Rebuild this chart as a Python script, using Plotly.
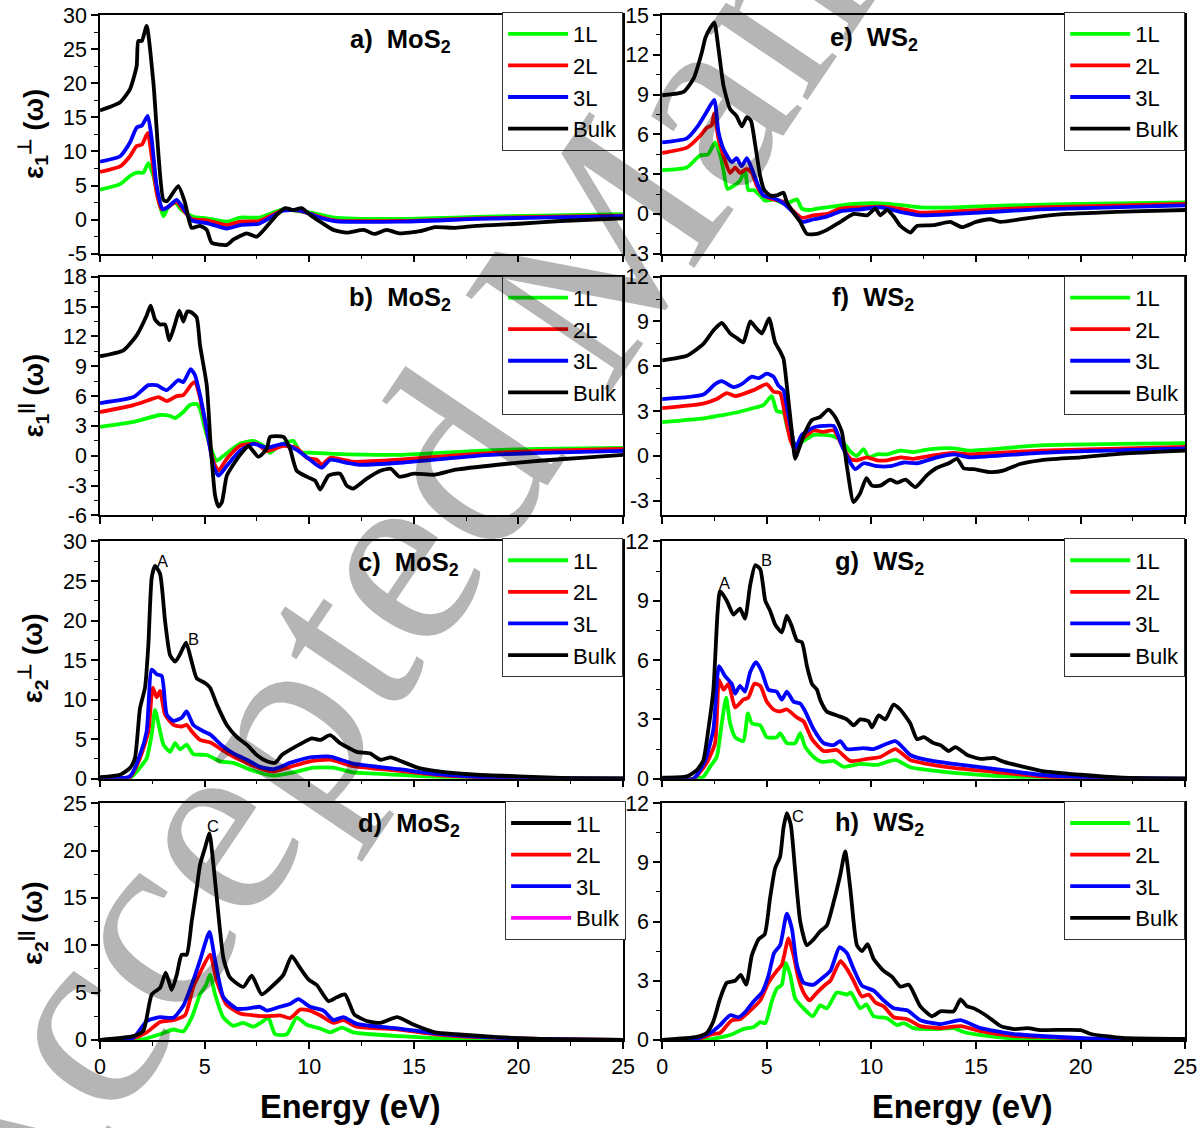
import plotly.graph_objects as go

# The captured picture shows the page slightly shrunk and offset, so placements are given in
# picture pixels and converted: picture = O + S * figure.
S_X, O_X, S_Y, O_Y = 0.985, 6.0, 0.98, 12.0
W, H = 1215, 1142
def fx(px): return ((px - O_X) / S_X) / W
def fy(py): return 1 - ((py - O_Y) / S_Y) / H

SERIES = ["1L", "2L", "3L", "Bulk"]
COLORS = {"1L": "#00ff00", "2L": "#ff0000", "3L": "#0000ff", "Bulk": "#000000"}

# ---------------- panel a : eps1 perp, MoS2 ----------------
a_1L_E = [0, 0.96, 1.43, 1.75, 2.07, 2.31, 2.55, 2.79, 3.03, 3.27, 3.59, 3.9, 4.46, 5.1, 6.06, 6.7, 7.6, 8.75, 9.56, 10.3, 11.2, 14.3, 18, 21, 25]
a_1L_v = [4.4, 5.2, 6.4, 6.9, 6.9, 8.3, 6.4, 2.9, 0.5, 1.9, 2.5, 1.4, 0.4, 0.2, -0.3, 0.3, 0.3, 1.5, 1.2, 0.9, 0.3, 0.1, 0.4, 0.6, 0.8]
a_2L_E = [0, 0.96, 1.43, 1.75, 2.0, 2.28, 2.47, 2.71, 2.95, 3.27, 3.66, 3.98, 4.38, 5.1, 6.06, 6.7, 7.6, 8.75, 9.56, 10.3, 11.2, 14.3, 18, 21, 25]
a_2L_v = [7.0, 7.8, 9.3, 10.8, 11.0, 12.7, 9.3, 3.9, 1.5, 1.9, 2.6, 1.4, 0.1, -0.1, -0.8, -0.3, -0.2, 1.4, 1.3, 0.6, -0.1, -0.2, 0.2, 0.4, 0.6]
a_3L_E = [0, 0.96, 1.43, 1.75, 2.0, 2.28, 2.47, 2.71, 3.0, 3.27, 3.66, 3.98, 4.38, 5.1, 6.06, 6.7, 7.6, 8.75, 9.64, 10.3, 11.2, 14.3, 18, 21, 25]
a_3L_v = [8.5, 9.3, 11.3, 13.5, 13.8, 15.2, 11.8, 4.9, 1.5, 1.9, 2.9, 1.7, -0.1, -0.5, -1.3, -0.8, -0.6, 1.3, 1.3, 0.5, -0.2, -0.3, 0.1, 0.3, 0.5]
a_Bk_E = [0, 0.96, 1.43, 1.75, 1.83, 2.0, 2.23, 2.55, 3.03, 3.2, 3.74, 4.06, 4.38, 4.78, 5.1, 5.34, 6.06, 6.38, 7.01, 7.49, 7.97, 8.45, 8.84, 9.24, 9.64, 10.04, 10.52, 11.15, 11.8, 12.6, 13.1, 13.7, 14.3, 15.3, 16.0, 17, 18, 20, 22, 25]
a_Bk_v = [16.0, 17.2, 19.1, 22.5, 26.2, 26.2, 28.4, 20.1, 2.9, 2.7, 4.9, 2.5, -1.2, -0.9, -1.5, -3.4, -3.7, -2.9, -2.0, -2.5, -1.0, 0.7, 1.7, 1.4, 1.7, 0.7, -0.3, -1.5, -1.9, -1.5, -2.1, -1.5, -2.0, -1.7, -1.1, -1.2, -0.9, -0.6, -0.2, 0.2]

# ---------------- panel b : eps1 par, MoS2 ----------------
b_1L_E = [0, 1.6, 2.87, 3.35, 3.59, 3.98, 4.3, 4.62, 4.78, 5.02, 5.26, 5.58, 5.9, 6.69, 7.33, 7.81, 8.13, 8.53, 9.24, 9.56, 10.2, 11.15, 14.3, 18, 21, 25]
b_1L_v = [2.9, 3.4, 4.1, 4.0, 3.8, 4.4, 5.1, 5.2, 4.7, 2.7, 1.0, -0.5, 0.0, 1.2, 1.5, 1.0, 0.3, 1.0, 1.5, 0.4, 0.3, 0.2, 0.1, 0.5, 0.7, 0.8]
b_2L_E = [0, 1.6, 2.47, 2.79, 3.19, 3.66, 3.98, 4.38, 4.54, 4.75, 5.02, 5.42, 5.66, 6.06, 6.69, 7.49, 7.97, 8.77, 9.4, 9.88, 10.36, 10.6, 11.0, 11.63, 12.1, 14.3, 18, 21, 25]
b_2L_v = [4.4, 5.1, 5.7, 5.9, 5.5, 6.0, 6.1, 7.2, 7.4, 6.1, 3.4, -0.6, -1.5, -0.3, 1.0, 1.2, 0.5, 1.0, 0.8, -0.2, -0.4, -0.9, -0.2, -0.4, -0.6, -0.4, 0.2, 0.5, 0.7]
b_3L_E = [0, 1.6, 2.31, 2.71, 3.19, 3.74, 3.98, 4.33, 4.54, 4.78, 5.1, 5.42, 5.66, 6.06, 6.69, 7.33, 7.97, 8.77, 9.4, 10.04, 10.6, 11.0, 11.8, 12.4, 14.3, 18, 21, 25]
b_3L_v = [5.3, 5.9, 7.1, 7.1, 6.6, 7.6, 7.4, 8.7, 8.1, 6.1, 2.7, -1.0, -2.0, -1.0, 0.5, 1.2, 0.8, 1.2, 0.6, -0.4, -1.2, -0.4, -0.7, -0.9, -0.7, 0.0, 0.3, 0.5]
b_Bk_E = [0, 1.12, 1.75, 2.23, 2.42, 2.63, 2.87, 3.11, 3.31, 3.58, 3.79, 3.98, 4.17, 4.38, 4.62, 4.78, 5.1, 5.29, 5.5, 5.66, 5.82, 6.06, 6.46, 6.85, 7.09, 7.57, 7.97, 8.13, 8.77, 9.08, 9.4, 9.88, 10.28, 10.52, 10.92, 11.47, 11.79, 12.1, 12.75, 13.4, 13.9, 14.3, 15, 16, 17, 19, 21, 23, 25]
b_Bk_v = [10.0, 10.6, 12.1, 14.1, 15.1, 13.7, 13.2, 13.2, 11.6, 13.2, 14.6, 13.5, 14.5, 14.4, 13.9, 11.1, 7.1, 1.0, -4.0, -5.1, -4.7, -2.0, -0.6, 0.5, 1.0, -0.1, 0.7, 1.9, 1.9, 0.7, -1.5, -2.1, -2.5, -3.4, -2.0, -1.8, -3.0, -3.3, -2.3, -1.5, -1.3, -2.1, -1.8, -1.9, -1.4, -0.9, -0.5, -0.2, 0.1]

# ---------------- panel c : eps2 perp, MoS2 ----------------
c_1L_E = [0, 1.43, 1.91, 2.23, 2.47, 2.63, 2.84, 3.03, 3.35, 3.59, 3.82, 4.14, 4.46, 5.1, 5.74, 6.37, 7.33, 8.29, 9.24, 10.2, 11.15, 12.1, 14.3, 16, 18, 21, 25]
c_1L_v = [0.1, 0.1, 1.4, 2.6, 5.6, 8.7, 6.4, 4.3, 3.4, 4.5, 3.7, 4.3, 3.1, 3.0, 2.2, 2.0, 1.0, 0.4, 0.8, 1.4, 1.4, 0.8, 0.5, 0.25, 0.1, 0.02, 0]
c_2L_E = [0, 1.43, 1.91, 2.31, 2.52, 2.71, 2.87, 3.11, 3.51, 3.9, 4.14, 4.38, 4.78, 5.26, 5.74, 6.37, 7.01, 7.65, 8.29, 9.08, 10.04, 11.0, 12.1, 14.3, 16, 18, 21, 25]
c_2L_v = [0.1, 0.2, 2.6, 6.0, 11.5, 10.3, 11.1, 8.1, 6.8, 6.6, 6.8, 6.0, 4.9, 4.6, 3.8, 2.8, 2.0, 1.3, 0.9, 1.5, 2.2, 2.4, 1.6, 1.0, 0.5, 0.2, 0.05, 0]
c_3L_E = [0, 1.43, 1.91, 2.23, 2.47, 2.71, 2.95, 3.19, 3.51, 3.9, 4.14, 4.46, 4.94, 5.26, 5.74, 6.37, 7.01, 7.65, 8.29, 9.08, 10.04, 11.0, 12.1, 14.3, 16, 18, 21, 25]
c_3L_v = [0.1, 0.3, 3.0, 6.0, 13.8, 13.2, 13.0, 8.1, 7.3, 7.7, 8.5, 6.8, 6.0, 5.6, 4.4, 3.2, 2.4, 1.5, 1.2, 2.0, 2.7, 2.8, 1.9, 1.2, 0.6, 0.25, 0.05, 0]
c_Bk_E = [0, 0.96, 1.43, 1.67, 1.91, 2.15, 2.31, 2.47, 2.63, 2.87, 3.11, 3.35, 3.59, 3.82, 4.11, 4.38, 4.62, 5.02, 5.26, 5.58, 6.06, 6.53, 7.01, 7.49, 7.97, 8.37, 8.69, 9.24, 9.72, 10.12, 10.52, 11.0, 11.47, 12.27, 12.9, 13.4, 13.9, 14.3, 15.3, 16, 18, 20, 22, 25]
c_Bk_v = [0.2, 0.5, 1.35, 2.6, 8.9, 11.5, 16.9, 25.4, 26.9, 25.9, 19.9, 15.6, 14.8, 15.7, 17.2, 14.8, 12.7, 12.1, 11.5, 9.4, 6.8, 5.3, 4.3, 3.0, 2.2, 2.0, 3.0, 3.9, 4.6, 5.1, 4.9, 5.5, 4.5, 3.4, 3.2, 2.4, 2.7, 2.3, 1.3, 1.0, 0.5, 0.3, 0.1, 0.05]

# ---------------- panel d : eps2 par, MoS2 ----------------
d_1L_E = [0, 1.91, 2.87, 3.51, 3.98, 4.38, 4.78, 5.07, 5.26, 5.5, 5.9, 6.37, 6.85, 7.33, 7.81, 8.05, 8.37, 8.93, 9.4, 9.88, 10.52, 11.0, 11.56, 12.1, 14.3, 16, 19, 25]
d_1L_v = [0, 0.0, 0.6, 1.1, 0.9, 2.35, 4.8, 5.8, 6.9, 4.8, 2.35, 1.5, 1.8, 1.4, 2.0, 2.35, 0.6, 0.6, 2.35, 1.6, 1.2, 0.8, 1.3, 0.8, 0.4, 0.2, 0.05, 0]
d_2L_E = [0, 1.6, 2.23, 2.87, 3.51, 4.06, 4.46, 4.78, 5.26, 5.58, 6.06, 6.69, 7.33, 7.97, 8.6, 9.08, 9.56, 10.04, 10.52, 11.15, 11.63, 12.27, 14.3, 16, 18, 21, 25]
d_2L_v = [0, 0.2, 0.8, 1.9, 2.1, 2.6, 5.6, 7.1, 9.0, 6.2, 3.7, 2.8, 2.6, 2.5, 2.6, 2.3, 3.2, 3.1, 2.6, 1.8, 2.1, 1.4, 1.1, 0.6, 0.3, 0.1, 0]
d_3L_E = [0, 1.6, 2.23, 2.87, 3.51, 3.98, 4.46, 4.78, 5.23, 5.5, 5.9, 6.53, 7.01, 7.65, 7.97, 8.6, 9.08, 9.48, 10.04, 10.68, 11.15, 11.63, 12.27, 14.3, 16, 18, 21, 25]
d_3L_v = [0, 0.25, 2.0, 2.4, 2.35, 3.6, 6.3, 8.4, 11.4, 8.4, 4.5, 3.3, 3.3, 3.5, 3.1, 3.5, 3.8, 4.3, 3.5, 3.1, 2.1, 2.4, 1.7, 1.2, 0.7, 0.35, 0.1, 0]
d_Bk_E = [0, 1.6, 2.07, 2.47, 2.87, 3.14, 3.43, 3.67, 3.9, 4.14, 4.38, 4.62, 4.78, 5.02, 5.23, 5.42, 5.66, 5.9, 6.21, 6.85, 7.25, 7.73, 8.29, 8.77, 9.16, 9.56, 9.96, 10.36, 10.92, 11.31, 11.71, 12.15, 12.75, 13.4, 14.2, 15, 16, 17, 19, 21, 25]
d_Bk_v = [0, 0.4, 0.95, 4.8, 5.5, 7.1, 5.3, 6.9, 9.0, 9.0, 12.5, 16.0, 18.5, 20.3, 21.8, 18.5, 13.2, 8.6, 6.6, 5.6, 6.8, 4.8, 5.8, 6.9, 8.85, 7.6, 6.4, 5.8, 4.1, 4.5, 4.8, 2.7, 2.0, 1.8, 2.4, 1.6, 0.8, 0.6, 0.3, 0.1, 0]

# ---------------- panel e : eps1 perp, WS2 ----------------
e_1L_E = [0, 1.18, 1.8, 2.2, 2.53, 2.77, 2.93, 3.12, 3.4, 3.72, 3.96, 4.12, 4.37, 4.68, 4.92, 5.32, 5.8, 6.12, 6.44, 6.68, 7.0, 7.4, 7.88, 9.16, 10.43, 11.55, 12.34, 14, 16.2, 20, 25]
e_1L_v = [3.3, 3.5, 4.4, 4.5, 5.4, 4.5, 3.3, 1.9, 2.1, 2.5, 3.3, 1.8, 1.8, 1.4, 1.0, 1.1, 0.8, 0.9, 1.1, 0.4, 0.3, 0.4, 0.5, 0.75, 0.8, 0.65, 0.5, 0.5, 0.63, 0.75, 0.88]
e_2L_E = [0, 1.18, 1.82, 2.13, 2.37, 2.49, 2.69, 2.93, 3.25, 3.49, 3.72, 4.05, 4.29, 4.53, 4.84, 5.32, 5.8, 6.28, 6.68, 7.24, 7.88, 8.52, 9.48, 10.43, 11.55, 12.34, 14, 18, 25]
e_2L_v = [4.6, 5.0, 5.9, 6.5, 6.7, 7.6, 5.7, 4.4, 3.1, 3.5, 3.1, 3.4, 3.1, 2.1, 1.4, 1.1, 0.9, 0.2, -0.3, -0.1, 0.0, 0.4, 0.5, 0.55, 0.35, 0.1, 0.2, 0.5, 0.75]
e_3L_E = [0, 1.18, 1.74, 2.13, 2.49, 2.69, 2.93, 3.33, 3.56, 3.8, 4.05, 4.29, 4.6, 4.84, 5.32, 5.8, 6.28, 6.68, 7.24, 7.88, 8.52, 9.48, 10.43, 11.55, 12.34, 14, 18, 25]
e_3L_v = [5.4, 5.7, 6.7, 7.7, 8.6, 6.2, 4.9, 3.9, 4.2, 3.6, 4.2, 3.4, 2.1, 1.4, 1.2, 0.8, 0.1, -0.6, -0.4, -0.2, 0.2, 0.35, 0.5, 0.1, -0.1, 0.0, 0.35, 0.65]
e_Bk_E = [0, 1.02, 1.5, 1.9, 2.07, 2.29, 2.49, 2.69, 2.93, 3.25, 3.55, 3.81, 4.05, 4.24, 4.45, 4.68, 4.88, 5.16, 5.48, 5.8, 5.96, 6.28, 6.6, 6.92, 7.4, 7.88, 8.52, 9.16, 9.8, 10.19, 10.43, 10.75, 11.07, 11.39, 11.86, 12.18, 12.97, 13.77, 14.33, 15.0, 15.68, 16.16, 17.75, 19.35, 20.9, 22.5, 25]
e_Bk_v = [8.95, 9.2, 10.2, 12.2, 13.3, 14.0, 14.45, 12.5, 9.7, 7.9, 7.4, 6.6, 7.3, 7.05, 5.2, 2.9, 1.8, 1.4, 1.4, 1.6, 0.9, 0.1, -0.6, -1.5, -1.5, -1.2, -0.6, 0.0, -0.1, 0.4, -0.1, 0.3, -0.2, -0.9, -1.4, -0.9, -0.85, -0.6, -1.0, -0.6, -0.4, -0.6, -0.25, 0.0, 0.1, 0.2, 0.3]

# ---------------- panel f : eps1 par, WS2 ----------------
f_1L_E = [0, 1.97, 2.77, 3.56, 4.37, 4.84, 5.24, 5.48, 5.8, 5.96, 6.2, 6.44, 6.76, 7.24, 7.72, 8.2, 8.59, 8.99, 9.31, 9.63, 9.87, 10.27, 10.75, 11.39, 12.02, 12.82, 13.93, 14.7, 18.07, 25]
f_1L_v = [2.25, 2.5, 2.7, 2.9, 3.2, 3.4, 4.0, 3.0, 2.9, 2.0, 1.1, 0.7, 1.0, 1.4, 1.4, 1.3, 1.0, 0.3, 0.0, 0.45, -0.1, 0.1, 0.1, 0.35, 0.25, 0.45, 0.5, 0.35, 0.7, 0.85]
f_2L_E = [0, 1.97, 2.61, 3.09, 3.49, 4.37, 5.0, 5.32, 5.64, 5.88, 6.12, 6.36, 6.68, 7.24, 7.72, 8.2, 8.59, 8.99, 9.31, 9.79, 10.27, 10.75, 11.39, 12.02, 12.82, 13.93, 14.7, 18.07, 25]
f_2L_v = [3.2, 3.5, 3.8, 4.2, 4.0, 4.4, 4.8, 4.3, 4.2, 2.7, 1.1, 0.4, 1.1, 1.7, 1.6, 1.7, 0.7, -0.2, -0.3, -0.1, -0.3, -0.3, -0.1, -0.2, 0.0, 0.2, 0.1, 0.35, 0.6]
f_3L_E = [0, 1.97, 2.53, 2.85, 3.41, 3.8, 4.29, 4.61, 5.0, 5.32, 5.56, 5.8, 5.96, 6.2, 6.36, 6.68, 7.24, 7.72, 8.2, 8.59, 8.99, 9.23, 9.63, 10.27, 10.9, 11.55, 12.18, 13.14, 13.93, 14.7, 18.07, 25]
f_3L_v = [3.8, 4.1, 4.8, 5.0, 4.6, 4.8, 5.3, 5.2, 5.5, 5.3, 4.7, 4.4, 3.3, 1.5, 0.5, 1.4, 1.9, 2.0, 2.0, 0.7, -0.45, -0.9, -0.5, -0.7, -0.7, -0.45, -0.5, -0.1, 0.1, -0.1, 0.2, 0.5]
f_Bk_E = [0, 1.18, 1.97, 2.45, 2.85, 3.25, 3.56, 3.88, 4.21, 4.53, 4.77, 5.11, 5.4, 5.64, 5.8, 5.96, 6.2, 6.36, 6.52, 6.84, 7.16, 7.55, 7.95, 8.27, 8.59, 8.83, 9.15, 9.47, 9.76, 10.03, 10.43, 10.9, 11.23, 11.63, 12.1, 12.66, 13.14, 13.7, 14.1, 14.42, 14.9, 15.7, 16.3, 17.1, 18.07, 20, 22, 25]
f_Bk_v = [6.4, 6.7, 7.5, 8.4, 8.9, 8.2, 7.9, 7.6, 9.0, 8.5, 8.2, 9.2, 7.6, 7.0, 6.5, 4.7, 1.6, -0.2, 0.4, 1.6, 2.4, 2.6, 3.1, 2.6, 1.6, -0.7, -3.1, -2.5, -1.5, -2.0, -2.0, -1.6, -1.8, -1.6, -2.1, -1.3, -0.8, -0.5, -0.2, -0.85, -0.9, -1.1, -1.0, -0.55, -0.3, -0.1, 0.15, 0.35]

# ---------------- panel g : eps2 perp, WS2 ----------------
g_1L_E = [0, 1.5, 1.97, 2.29, 2.61, 2.85, 3.06, 3.25, 3.49, 3.88, 4.1, 4.29, 4.69, 5.0, 5.48, 5.64, 5.96, 6.36, 6.6, 6.84, 7.24, 7.64, 8.2, 8.68, 9.47, 10.27, 11.15, 11.86, 12.66, 13.93, 15.86, 18, 20, 25]
g_1L_v = [0, 0, 0.1, 0.6, 1.1, 2.8, 4.1, 2.8, 2.1, 1.9, 3.3, 2.8, 2.7, 2.1, 2.1, 2.3, 1.8, 1.8, 2.3, 1.6, 1.1, 0.85, 0.9, 0.6, 0.75, 0.7, 0.95, 0.58, 0.45, 0.3, 0.15, 0.05, 0, 0]
g_2L_E = [0, 1.5, 2.13, 2.53, 2.72, 2.93, 3.17, 3.49, 3.88, 4.12, 4.41, 4.69, 5.0, 5.32, 5.64, 5.96, 6.44, 6.76, 7.16, 7.72, 8.35, 8.99, 9.79, 10.43, 11.15, 11.86, 12.66, 13.93, 15.86, 18.1, 21, 25]
g_2L_v = [0, 0, 0.8, 1.8, 5.0, 4.5, 4.8, 3.6, 4.0, 4.1, 4.8, 4.7, 3.9, 3.5, 3.4, 3.5, 3.1, 2.9, 2.0, 1.4, 1.45, 0.9, 1.0, 1.1, 1.5, 0.95, 0.75, 0.55, 0.35, 0.12, 0, 0]
g_3L_E = [0, 1.5, 2.05, 2.45, 2.72, 3.0, 3.33, 3.49, 3.72, 3.96, 4.21, 4.49, 4.77, 5.08, 5.48, 5.72, 5.96, 6.28, 6.6, 6.84, 7.24, 7.72, 8.2, 8.52, 8.83, 9.63, 10.11, 11.15, 11.86, 12.66, 13.93, 15.86, 18.1, 21, 25]
g_3L_v = [0, 0, 0.9, 2.5, 5.7, 5.2, 4.8, 4.3, 4.7, 4.4, 5.4, 5.9, 5.4, 4.5, 4.4, 4.0, 4.4, 3.9, 3.8, 3.4, 2.5, 1.8, 1.7, 1.9, 1.5, 1.55, 1.5, 1.9, 1.2, 0.95, 0.75, 0.5, 0.2, 0.05, 0]
g_Bk_E = [0, 1.18, 1.66, 1.97, 2.21, 2.45, 2.65, 2.77, 3.09, 3.41, 3.72, 3.96, 4.21, 4.45, 4.69, 4.93, 5.16, 5.4, 5.72, 5.96, 6.2, 6.44, 6.68, 6.92, 7.16, 7.4, 7.55, 7.87, 8.35, 8.83, 9.15, 9.47, 9.87, 10.03, 10.35, 10.67, 11.06, 11.38, 11.86, 12.18, 12.5, 12.98, 13.3, 13.7, 14.02, 14.58, 15.22, 15.86, 16.34, 18.1, 20, 22, 25]
g_Bk_v = [0.05, 0.12, 0.43, 0.93, 2.5, 4.5, 8.4, 9.5, 9.0, 8.3, 8.6, 8.1, 9.8, 10.8, 10.6, 9.0, 8.5, 7.8, 7.4, 8.25, 7.7, 7.0, 6.9, 5.7, 4.8, 4.5, 4.0, 3.4, 3.2, 3.0, 2.7, 3.0, 2.9, 2.6, 3.2, 3.0, 3.75, 3.5, 2.8, 2.0, 2.1, 1.8, 1.7, 1.4, 1.6, 1.2, 1.0, 1.05, 0.85, 0.4, 0.2, 0.05, 0]

# ---------------- panel h : eps2 par, WS2 ----------------
h_1L_E = [0, 2.13, 3.25, 3.88, 4.37, 4.69, 4.93, 5.24, 5.48, 5.72, 5.91, 6.12, 6.36, 6.76, 7.2, 7.55, 7.87, 8.35, 8.83, 9.02, 9.47, 9.76, 10.11, 10.75, 11.23, 11.55, 12.02, 13.14, 13.93, 14.42, 15.54, 17.14, 19, 25]
h_1L_v = [0, 0, 0.25, 0.55, 0.65, 0.9, 0.85, 1.95, 2.6, 2.8, 3.9, 3.3, 2.1, 1.6, 1.2, 1.75, 1.6, 2.4, 2.3, 2.4, 1.6, 1.8, 1.2, 1.1, 0.75, 0.85, 0.6, 0.55, 0.6, 0.4, 0.2, 0.05, 0, 0]
h_2L_E = [0, 1.66, 2.45, 2.77, 3.33, 3.72, 4.12, 4.69, 5.08, 5.48, 5.72, 6.04, 6.28, 6.52, 6.76, 7.04, 7.4, 7.8, 8.04, 8.52, 8.83, 9.15, 9.55, 9.87, 10.19, 10.59, 11.07, 11.71, 12.34, 13.3, 14.26, 15.22, 16.82, 18.1, 21, 25]
h_2L_v = [0, 0.03, 0.3, 0.35, 1.0, 1.05, 1.4, 2.0, 2.9, 3.5, 3.8, 5.15, 4.3, 3.1, 2.4, 2.0, 2.4, 2.8, 3.0, 4.0, 3.6, 3.0, 2.2, 2.3, 1.9, 1.7, 1.15, 1.05, 0.7, 0.6, 0.7, 0.45, 0.2, 0.15, 0.02, 0]
h_3L_E = [0, 1.66, 2.37, 2.77, 3.25, 3.65, 3.96, 4.37, 4.77, 5.08, 5.35, 5.64, 5.96, 6.2, 6.44, 6.76, 7.24, 7.55, 8.04, 8.48, 8.83, 9.15, 9.55, 10.11, 10.59, 11.07, 11.71, 12.34, 13.3, 14.26, 15.22, 16.82, 18.1, 21, 25]
h_3L_v = [0, 0.06, 0.4, 0.75, 1.25, 1.15, 1.4, 1.95, 2.4, 3.25, 4.4, 4.8, 6.4, 5.65, 3.8, 2.9, 2.8, 3.05, 3.5, 4.7, 4.4, 3.6, 2.75, 2.5, 2.0, 1.6, 1.5, 1.0, 0.8, 1.0, 0.6, 0.3, 0.2, 0.05, 0]
h_Bk_E = [0, 1.66, 2.13, 2.45, 2.77, 3.09, 3.49, 3.76, 4.02, 4.29, 4.61, 4.9, 5.16, 5.4, 5.64, 5.8, 5.96, 6.15, 6.36, 6.6, 6.92, 7.24, 7.55, 7.87, 8.2, 8.52, 8.75, 8.99, 9.31, 9.55, 9.82, 10.11, 10.59, 10.99, 11.39, 11.79, 12.34, 12.9, 13.3, 13.93, 14.26, 14.58, 14.9, 15.54, 16.18, 16.82, 17.46, 18.1, 20, 20.5, 22, 25]
h_Bk_v = [0, 0.15, 0.35, 0.95, 2.1, 2.9, 3.0, 3.3, 2.8, 4.3, 5.1, 5.35, 7.2, 8.7, 9.3, 10.75, 11.5, 10.9, 8.55, 6.0, 4.8, 5.1, 5.5, 5.8, 7.0, 8.4, 9.55, 7.7, 4.8, 4.5, 4.85, 4.1, 3.5, 3.2, 2.7, 2.8, 1.7, 1.2, 1.45, 1.45, 2.05, 1.7, 1.6, 1.2, 0.7, 0.55, 0.6, 0.5, 0.5, 0.3, 0.1, 0.05]

X_TICKS = [0, 5, 10, 15, 20, 25]

DATA = {
    "a": [(a_1L_E, a_1L_v), (a_2L_E, a_2L_v), (a_3L_E, a_3L_v), (a_Bk_E, a_Bk_v)],
    "b": [(b_1L_E, b_1L_v), (b_2L_E, b_2L_v), (b_3L_E, b_3L_v), (b_Bk_E, b_Bk_v)],
    "c": [(c_1L_E, c_1L_v), (c_2L_E, c_2L_v), (c_3L_E, c_3L_v), (c_Bk_E, c_Bk_v)],
    "d": [(d_1L_E, d_1L_v), (d_2L_E, d_2L_v), (d_3L_E, d_3L_v), (d_Bk_E, d_Bk_v)],
    "e": [(e_1L_E, e_1L_v), (e_2L_E, e_2L_v), (e_3L_E, e_3L_v), (e_Bk_E, e_Bk_v)],
    "f": [(f_1L_E, f_1L_v), (f_2L_E, f_2L_v), (f_3L_E, f_3L_v), (f_Bk_E, f_Bk_v)],
    "g": [(g_1L_E, g_1L_v), (g_2L_E, g_2L_v), (g_3L_E, g_3L_v), (g_Bk_E, g_Bk_v)],
    "h": [(h_1L_E, h_1L_v), (h_2L_E, h_2L_v), (h_3L_E, h_3L_v), (h_Bk_E, h_Bk_v)],
}

PANELS = [
    dict(k="a", i=1, xl=100, xr=623, yt=16, yb=255, rng=[-5, 30], dt=5, mat="MoS", lab=(400, 42), leg=(623, 13)),
    dict(k="b", i=2, xl=100, xr=623, yt=278, yb=517, rng=[-6, 18], dt=3, mat="MoS", lab=(400, 300), leg=(623, 277)),
    dict(k="c", i=3, xl=100, xr=623, yt=543, yb=780.5, rng=[0, 30], dt=5, mat="MoS", lab=(408, 566), leg=(623, 540)),
    dict(k="d", i=4, xl=100, xr=623, yt=805, yb=1042, rng=[0, 25], dt=5, mat="MoS", lab=(409, 827), leg=(626, 803)),
    dict(k="e", i=5, xl=662, xr=1185, yt=16, yb=255, rng=[-3, 15], dt=3, mat="WS", lab=(874, 40), leg=(1185, 13)),
    dict(k="f", i=6, xl=662, xr=1185, yt=278, yb=517, rng=[-4, 12], dt=3, mat="WS", lab=(873, 300), leg=(1185, 277)),
    dict(k="g", i=7, xl=662, xr=1185, yt=543, yb=780.5, rng=[0, 12], dt=3, mat="WS", lab=(879, 565), leg=(1185, 540)),
    dict(k="h", i=8, xl=662, xr=1185, yt=805, yb=1042, rng=[0, 12], dt=3, mat="WS", lab=(879, 826), leg=(1185, 803)),
]

FONT = "Liberation Sans, Arial, sans-serif"
TICKFONT = dict(family=FONT, size=21.5, color="black")

fig = go.Figure()
layout = dict(width=W, height=H, margin=dict(l=0, r=0, t=0, b=0),
              paper_bgcolor="white", plot_bgcolor="white", showlegend=True)
annotations = []

for p in PANELS:
    i = p["i"]
    xs = "x" if i == 1 else f"x{i}"
    ys = "y" if i == 1 else f"y{i}"
    legname = "legend" if i == 1 else f"legend{i}"
    for (E, v), name in zip(DATA[p["k"]], SERIES):
        show = True
        if p["k"] == "d" and name in ("1L", "Bulk"):
            show = False
        fig.add_trace(go.Scatter(x=E, y=v, mode="lines", name=name, xaxis=xs, yaxis=ys,
                                 line=dict(color=COLORS[name], width=3.8, shape="spline", smoothing=0.55),
                                 legend=legname, showlegend=show,
                                 legendrank={"1L": 1, "2L": 2, "3L": 3, "Bulk": 4}[name]))
    if p["k"] == "d":
        # the legend of panel d in the original lists 1L in black and Bulk in magenta
        fig.add_trace(go.Scatter(x=[None], y=[None], mode="lines", name="1L", xaxis=xs, yaxis=ys,
                                 line=dict(color="#000000", width=3.8), legend=legname, legendrank=1))
        fig.add_trace(go.Scatter(x=[None], y=[None], mode="lines", name="Bulk", xaxis=xs, yaxis=ys,
                                 line=dict(color="#ff00ff", width=3.8), legend=legname, legendrank=4))

    bottom = p["k"] in ("d", "h")
    xa = dict(domain=[fx(p["xl"]), fx(p["xr"])], range=[0, 25], anchor=ys,
              tickvals=X_TICKS, ticktext=[str(t) for t in X_TICKS], showticklabels=bottom,
              ticks="outside", ticklen=7, tickwidth=1.5, tickcolor="black",
              minor=dict(ticks="outside", ticklen=4, tickwidth=1.2, tickcolor="black", dtick=2.5, tick0=0),
              showline=True, linecolor="black", linewidth=1.5, mirror=True,
              showgrid=False, zeroline=False, tickfont=TICKFONT)
    lo, hi = p["rng"]
    dt = p["dt"]
    start = lo if lo % dt == 0 else lo + (dt - lo % dt)
    yt = list(range(start, hi + 1, dt))
    ya = dict(domain=[fy(p["yb"]), fy(p["yt"])], range=[lo, hi], anchor=xs,
              tickvals=yt, ticktext=[("-" + str(-t)) if t < 0 else str(t) for t in yt],
              ticks="outside", ticklen=7, tickwidth=1.5, tickcolor="black",
              minor=dict(ticks="outside", ticklen=4, tickwidth=1.2, tickcolor="black", dtick=dt / 2, tick0=0),
              showline=True, linecolor="black", linewidth=1.5, mirror=True,
              showgrid=False, zeroline=False, tickfont=TICKFONT)
    layout["xaxis" if i == 1 else f"xaxis{i}"] = xa
    layout["yaxis" if i == 1 else f"yaxis{i}"] = ya
    layout[legname] = dict(x=fx(p["leg"][0]), y=fy(p["leg"][1]), xanchor="right", yanchor="top",
                           bgcolor="white", bordercolor="#333333", borderwidth=1,
                           font=dict(family=FONT, size=22, color="black"),
                           itemwidth=60, traceorder="normal", tracegroupgap=0)
    annotations.append(dict(xref="paper", yref="paper", x=fx(p["lab"][0]), y=fy(p["lab"][1]),
                            text=f"<b>{p['k']})  {p['mat']}<sub>2</sub></b>", showarrow=False,
                            xanchor="center", yanchor="middle",
                            font=dict(family=FONT, size=25.5, color="black")))

# peak labels
PEAKS = [("x3", "y3", 3.0, 27.5, "A"), ("x3", "y3", 4.45, 17.7, "B"), ("x4", "y4", 5.4, 22.6, "C"),
         ("x7", "y7", 2.96, 9.9, "A"), ("x7", "y7", 4.97, 11.05, "B"), ("x8", "y8", 6.5, 11.35, "C")]
for xr, yr, xv, yv, t in PEAKS:
    annotations.append(dict(xref=xr, yref=yr, x=xv, y=yv, text=t, showarrow=False,
                            font=dict(family=FONT, size=16.5, color="black")))

# y-axis titles
YTITLES = [("ε<sub>1</sub><sup>⊥</sup> (ω)", 135), ("ε<sub>1</sub><sup>||</sup> (ω)", 397),
           ("ε<sub>2</sub><sup>⊥</sup> (ω)", 660), ("ε<sub>2</sub><sup>||</sup> (ω)", 925)]
for t, yc in YTITLES:
    annotations.append(dict(xref="paper", yref="paper", x=fx(33), y=fy(yc), text=f"<b>{t}</b>",
                            textangle=-90, showarrow=False, xanchor="center", yanchor="middle",
                            font=dict(family=FONT, size=27.5, color="black")))
for xc in (350, 962):
    annotations.append(dict(xref="paper", yref="paper", x=fx(xc), y=fy(1109), text="<b>Energy (eV)</b>",
                            showarrow=False, xanchor="center", yanchor="middle",
                            font=dict(family=FONT, size=32.5, color="black")))

# watermark
annotations.append(dict(xref="paper", yref="paper", x=fx(571), y=fy(292), text="Accepted Manuscript",
                        textangle=-56, showarrow=False, xanchor="center", yanchor="middle",
                        font=dict(family="Liberation Serif, Times New Roman, serif", size=266,
                                  color="rgba(0,0,0,0.29)")))

layout["annotations"] = annotations
fig.update_layout(**layout)
fig.write_html("out.html")
